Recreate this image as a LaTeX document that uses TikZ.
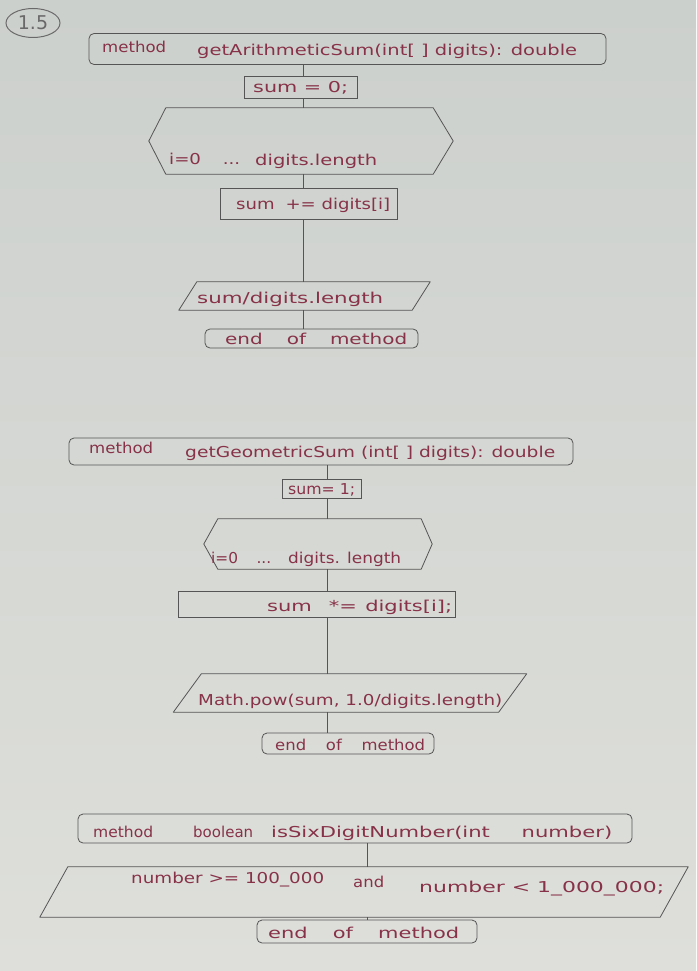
\documentclass[tikz,border=0pt]{standalone}
\usepackage{fontspec}
\setmainfont{DejaVu Sans}
\usepackage{graphicx}
\usetikzlibrary{shapes.geometric}
\definecolor{papertop}{RGB}{204,208,204}
\definecolor{paperbot}{RGB}{222,223,219}
\definecolor{inkc}{RGB}{135,50,72}
\definecolor{linec}{RGB}{85,85,85}
\definecolor{pencil}{RGB}{105,105,105}
\newcommand\fitto[2]{\resizebox{#1}{\height}{#2}}
\tikzset{
  hand/.style={text=inkc, font=\fontsize{15}{17}\selectfont, inner sep=0pt, anchor=base west},
  box/.style={draw=linec, line width=0.8pt, rectangle, inner sep=0pt},
  rbox/.style={box, rounded corners=5pt},
  ghost/.style={rectangle, inner sep=0pt},
  shapeline/.style={draw=linec, line width=0.8pt, line join=round},
  conn/.style={draw=linec, line width=0.8pt},
}
\begin{document}
\begin{tikzpicture}[x=1pt,y=-1pt]
\shade[top color=papertop, bottom color=paperbot] (0,0) rectangle (696,971);

% label
\node[ellipse, draw=pencil, line width=1pt, minimum width=54, minimum height=29, text=pencil, font=\fontsize{19}{21}\selectfont, inner sep=0pt] (num) at (33,23) {1.5};

% ---------------- chart 1 ----------------
\coordinate (ax1) at (303,0);
\node[rbox, minimum width=517, minimum height=31] (m1) at (347.5,49) {};
\node[hand] (m1a) at (102,53) {\fitto{64pt}{method}};
\node[hand] (m1b) at (197,56) {\fitto{380pt}{getArithmeticSum(int[ ] digits): double}};

\node[box, minimum width=113, minimum height=22] (s1) at (300.5,87) {};
\node[hand] (s1t) at (253,93) {\fitto{95pt}{sum = 0;}};

\node[ghost, minimum width=267, minimum height=66] (h1) at (299.5,141) {};
\draw[shapeline] (h1.north west) -- (h1.north east) -- ([xshift=20pt]h1.east) -- (h1.south east) -- (h1.south west) -- ([xshift=-17pt]h1.west) -- cycle;
\node[hand] (h1a) at (169,164) {\fitto{71pt}{i=0\hspace{1.2em}...}};
\node[hand] (h1b) at (255,165) {\fitto{122pt}{digits.length}};

\node[box, minimum width=177, minimum height=31] (s2) at (308.5,203.5) {};
\node[hand] (s2t) at (236,209) {\fitto{154pt}{sum\hspace{0.6em}+= digits[i]}};

\node[ghost, minimum width=233, minimum height=28] (p1) at (304.5,296) {};
\draw[shapeline] ([xshift=9pt]p1.north west) -- ([xshift=9pt]p1.north east) -- ([xshift=-9pt]p1.south east) -- ([xshift=-9pt]p1.south west) -- cycle;
\node[hand] (p1t) at (197,303) {\fitto{186pt}{sum/digits.length}};

\node[rbox, minimum width=213, minimum height=19] (e1) at (311.5,338.5) {};
\node[hand] (e1t) at (225,344) {\fitto{182pt}{end\hspace{1.2em}of\hspace{1.2em}method}};

\draw[conn] (m1.south -| ax1) -- (s1.north -| ax1);
\draw[conn] (s1.south -| ax1) -- (h1.north -| ax1);
\draw[conn] (h1.south -| ax1) -- (s2.north -| ax1);
\draw[conn] (s2.south -| ax1) -- (p1.north -| ax1);
\draw[conn] (p1.south -| ax1) -- (e1.north -| ax1);

% ---------------- chart 2 ----------------
\coordinate (ax2) at (327,0);
\node[rbox, minimum width=504, minimum height=27] (m2) at (321,451.5) {};
\node[hand] (m2a) at (89,453) {\fitto{64pt}{method}};
\node[hand] (m2b) at (185,457) {\fitto{370pt}{getGeometricSum (int[ ] digits): double}};

\node[box, minimum width=79, minimum height=19] (s3) at (321.5,488.5) {};
\node[hand] (s3t) at (288,494) {\fitto{67pt}{sum= 1;}};

\node[ghost, minimum width=203, minimum height=50] (h2) at (319.5,544) {};
\draw[shapeline] (h2.north west) -- (h2.north east) -- ([xshift=11pt]h2.east) -- (h2.south east) -- (h2.south west) -- ([xshift=-14pt]h2.west) -- cycle;
\node[hand] (h2a) at (211,563) {\fitto{60pt}{i=0\hspace{1.2em}...}};
\node[hand] (h2b) at (288,563) {\fitto{113pt}{digits. length}};

\node[box, minimum width=277, minimum height=26] (s4) at (316.5,604) {};
\node[hand] (s4t) at (267,611) {\fitto{185pt}{sum\hspace{0.8em}*=\hspace{0.4em}digits[i];}};

\node[ghost, minimum width=325, minimum height=38] (p2) at (350,693) {};
\draw[shapeline] ([xshift=14pt]p2.north west) -- ([xshift=14pt]p2.north east) -- ([xshift=-14pt]p2.south east) -- ([xshift=-14pt]p2.south west) -- cycle;
\node[hand] (p2t) at (198,705) {\fitto{304pt}{Math.pow(sum, 1.0/digits.length)}};

\node[rbox, minimum width=172, minimum height=21] (e2) at (348,743.5) {};
\node[hand] (e2t) at (275,750) {\fitto{150pt}{end\hspace{1.2em}of\hspace{1.2em}method}};

\draw[conn] (m2.south -| ax2) -- (s3.north -| ax2);
\draw[conn] (s3.south -| ax2) -- (h2.north -| ax2);
\draw[conn] (h2.south -| ax2) -- (s4.north -| ax2);
\draw[conn] (s4.south -| ax2) -- (p2.north -| ax2);
\draw[conn] (p2.south -| ax2) -- (e2.north -| ax2);

% ---------------- chart 3 ----------------
\coordinate (ax3) at (367,0);
\node[rbox, minimum width=554, minimum height=29] (m3) at (355,828.5) {};
\node[hand] (m3a) at (93,837) {\fitto{60pt}{method}};
\node[hand] (m3b) at (193,837) {\fitto{60pt}{boolean}};
\node[hand] (m3c) at (271,837) {\fitto{341pt}{isSixDigitNumber(int\hspace{1.5em}number)}};

\node[ghost, minimum width=620, minimum height=50] (p3) at (364,892) {};
\draw[shapeline] ([xshift=14pt]p3.north west) -- ([xshift=14pt]p3.north east) -- ([xshift=-14pt]p3.south east) -- ([xshift=-14pt]p3.south west) -- cycle;
\node[hand] (p3a) at (131,883) {\fitto{193pt}{number >= 100\_000}};
\node[hand] (p3b) at (353,887) {\fitto{31pt}{and}};
\node[hand] (p3c) at (419,892) {\fitto{245pt}{number < 1\_000\_000;}};

\node[rbox, minimum width=220, minimum height=23] (e3) at (367,931.5) {};
\node[hand] (e3t) at (268,938) {\fitto{191pt}{end\hspace{1.2em}of\hspace{1.2em}method}};

\draw[conn] (m3.south -| ax3) -- (p3.north -| ax3);
\draw[conn] (p3.south -| ax3) -- (e3.north -| ax3);
\end{tikzpicture}
\end{document}
